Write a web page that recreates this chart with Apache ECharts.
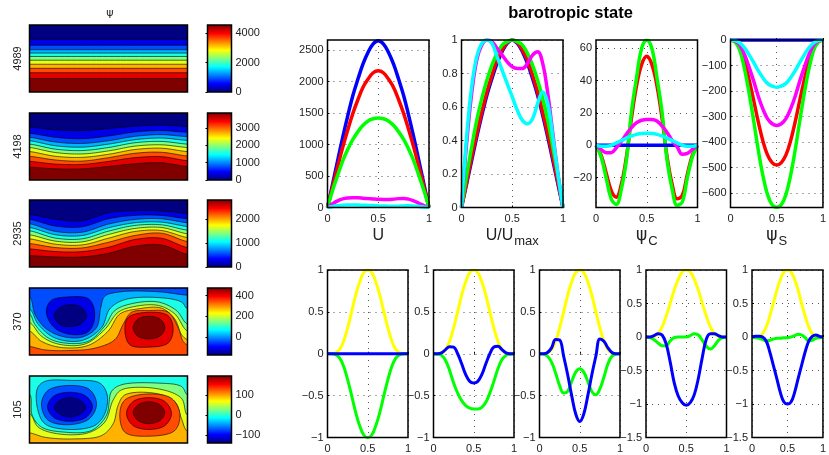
<!DOCTYPE html>
<html><head><meta charset="utf-8">
<style>html,body{margin:0;padding:0;background:#fff;overflow:hidden}#c{width:829px;height:455px}</style>
<script src="https://cdn.jsdelivr.net/npm/echarts@6/dist/echarts.min.js"></script>
</head><body><div id="c"></div>
<script>
// ---------- shared abscissa ----------
const xs = [0,.05,.1,.15,.2,.25,.3,.35,.4,.45,.5,.55,.6,.65,.7,.75,.8,.85,.9,.95,1];

// ---------- top row profiles ----------
const uBlue    = [0,370,745,1115,1460,1780,2040,2280,2465,2600,2650,2600,2465,2280,2040,1780,1460,1115,745,370,0];
const uRed     = [0,325,650,955,1235,1495,1715,1910,2040,2140,2170,2140,2040,1910,1715,1495,1235,955,650,325,0];
const uGreen   = [0,270,510,740,925,1080,1205,1305,1375,1410,1420,1410,1375,1305,1205,1080,925,740,510,270,0];
const uMagenta = [0,59,105,136,150,154,153,147,141,135,130,129,129,133,141,144,133,105,68,31,0];
const uCyan    = [0,17,29,36,39,40,39,36,33,30,26,23,21,20,21,25,28,25,17,8,0];

const rBlue    = [0,.14,.28,.42,.55,.67,.77,.86,.93,.98,1,.98,.93,.86,.77,.67,.55,.42,.28,.14,0];
const rRed     = [0,.15,.30,.44,.57,.69,.79,.88,.94,.985,1,.985,.94,.88,.79,.69,.57,.44,.30,.15,0];
const rGreen   = [0,.19,.36,.52,.65,.76,.85,.92,.97,.99,1,.99,.97,.92,.85,.76,.65,.52,.36,.19,0];
const rMagenta = [0,.38,.68,.88,.97,1,.99,.95,.91,.87,.84,.83,.83,.86,.91,.93,.86,.68,.44,.2,0];
const rCyan    = [0,.42,.72,.9,.98,1,.98,.9,.82,.74,.66,.58,.52,.5,.53,.62,.69,.62,.42,.2,0];

const cBlue    = [0,0,0,0,0,0,0,0,0,0,0,0,0,0,0,0,0,0,0,0,0];
const cRed     = [0,-6,-17,-28,-32,-24,-7,17,37,50,55,50,37,17,-7,-24,-33,-31,-18,-6,0];
const cGreen   = [0,-7,-20,-33,-36.5,-27,-9,21,42,60,65,60,42,21,-9,-27,-37,-35,-20,-7,0];
const cMagenta = [0,-2.5,-4.5,-4.5,-1.5,2.5,7,11,14,15.5,16,16,15,12,8,3,-1,-5.5,-5,-2.5,0];
const cCyan    = [0,-.5,-.5,0,1.5,3,4.5,5.8,6.8,7.3,7.5,7.3,6.8,5.8,4.5,3,1.5,0,-.5,-.5,0];

const sBlue    = [0,0,0,0,0,0,0,0,0,0,0,0,0,0,0,0,0,0,0,0,0];
const sRed     = [0,-6,-30,-82,-153,-235,-320,-395,-450,-480,-490,-480,-450,-395,-320,-235,-153,-82,-30,-6,0];
const sGreen   = [0,-8,-40,-110,-205,-315,-430,-530,-605,-645,-655,-645,-605,-530,-430,-315,-205,-110,-40,-8,0];
const sMagenta = [0,-4,-20,-56,-105,-160,-220,-270,-308,-328,-335,-328,-308,-270,-220,-160,-105,-56,-20,-4,0];
const sCyan    = [0,-2,-11,-30,-57,-88,-120,-148,-170,-181,-185,-181,-170,-148,-120,-88,-57,-30,-11,-2,0];

// ---------- bottom row modes ----------
const mYellow = [0,0,.01,.05,.15,.31,.5,.7,.86,.97,1,.97,.86,.7,.5,.31,.15,.05,.01,0,0];
const m1Green = [0,0,-.01,-.05,-.15,-.31,-.5,-.7,-.86,-.97,-1,-.97,-.86,-.7,-.5,-.31,-.15,-.05,-.01,0,0];
const m1Blue  = [0,0,0,0,0,0,0,0,0,0,0,0,0,0,0,0,0,0,0,0,0];
const m2Green = [0,-.005,-.02,-.08,-.2,-.35,-.47,-.56,-.62,-.65,-.66,-.66,-.64,-.58,-.47,-.33,-.18,-.07,-.02,-.005,0];
const m2Blue  = [0,0,.01,.05,.085,.08,0,-.12,-.25,-.33,-.35,-.33,-.25,-.12,0,.08,.09,.05,.01,0,0];
const m3Green = [0,-.005,-.03,-.1,-.23,-.38,-.47,-.45,-.33,-.22,-.18,-.22,-.33,-.45,-.49,-.42,-.28,-.12,-.03,-.005,0];
const m3Blue  = [0,0,.015,.07,.17,.165,-.03,-.25,-.5,-.72,-.81,-.72,-.5,-.25,-.03,.175,.15,.07,.015,0,0];
const m4Green = [0,-.01,-.04,-.09,-.13,-.13,-.06,-.01,0,0,0,.02,.05,.03,-.05,-.14,-.18,-.13,-.05,-.01,0];
const m4Blue  = [0,0,.02,.05,.03,-.1,-.37,-.68,-.88,-.98,-1.02,-.98,-.86,-.62,-.3,-.03,.05,.05,.02,0,0];
const m5Green = [0,-.01,-.02,-.04,-.06,-.05,-.03,-.02,-.02,-.01,-.01,0,.02,.04,.03,-.01,-.06,-.05,-.02,-.01,0];
const m5Blue  = [0,.01,.01,0,-.06,-.22,-.42,-.62,-.83,-.97,-1,-.97,-.83,-.62,-.42,-.22,-.06,.01,.03,.01,0];

// ---------- contour panels (x 0..474, y 0..height) ----------
const contourX = [0,79,158,237,316,395,474];
const p1Levels = [156,138,125,115,105,94,82,70,57,40];
const p2Lines = [
 [156,148,146,152,159,162,158],[138,126,122,130,142,146,141],[126,112,108,116,129,134,128],
 [116,101,97,106,119,124,117],[106,91,87,96,110,114,106],[96,81,77,86,100,104,96],
 [84,70,67,76,90,94,84],[70,59,56,66,79,82,71],[55,47,46,55,66,69,57],[38,33,33,40,48,51,40]];
const p3Lines = [
 [157,142,138,162,168,167,160],[142,122,120,144,154,154,144],[129,106,104,128,142,144,132],
 [118,96,94,117,132,134,121],[108,86,84,107,124,126,110],[96,77,75,97,115,118,99],
 [84,68,66,86,106,109,88],[70,58,57,74,94,101,76],[54,46,46,59,82,86,58],[34,30,30,41,62,66,38]];
const p4Open = [
 [[0,170],[16,120],[46,80],[96,55],[156,52],[201,80],[214,140],[226,172],[276,185],[386,185],[474,175]],
 [[0,135],[26,90],[76,50],[156,42],[216,80],[241,135],[286,162],[386,168],[456,155],[474,135]],
 [[0,120],[16,90],[56,50],[106,35],[176,40],[226,85],[256,130],[306,150],[386,155],[441,130],[474,90]],
 [[0,95],[36,55],[86,32],[166,32],[226,75],[266,125],[316,142],[386,145],[436,120],[474,70]],
 [[0,70],[36,40],[96,22],[176,28],[236,70],[271,120],[326,135],[396,137],[436,105],[456,60],[474,45]],
 [[0,25],[46,15],[116,13],[196,20],[256,45],[281,90],[306,125],[356,130],[416,125],[446,80],[461,40],[474,30]]];
const p4OpenLevels = [.3,.4,.5,.6,.7,.8];
const p4Closed = [
 [[51,135],[66,160],[116,170],[176,165],[194,135],[191,90],[171,65],[126,60],[81,75],[56,105]],
 [[74,115],[90,138],[122,147],[155,140],[171,115],[155,92],[122,83],[90,90]],
 [[286,75],[296,110],[356,125],[416,115],[431,75],[416,35],[356,23],[301,30]],
 [[311,80],[325,105],[358,113],[392,105],[406,80],[392,56],[358,47],[325,55]]];
const p4ClosedLevels = [.1,0,.9,1];
const p5Open = [
 [[0,144],[8,82],[36,47],[106,32],[186,37],[231,82],[246,152],[276,172],[386,177],[456,167],[474,142]],
 [[0,87],[26,47],[86,27],[176,30],[226,62],[251,127],[276,157],[386,160],[456,132],[474,82]],
 [[0,30],[46,17],[126,12],[216,22],[251,57],[266,112],[286,142],[376,147],[436,122],[456,72],[474,34]]];
const p5OpenLevels = [.5,.6,.7];
const p5Closed = [
 [[24,162],[46,182],[126,185],[211,177],[233,142],[226,87],[196,52],[116,40],[46,57],[24,102]],
 [[36,115],[55,155],[118,170],[180,158],[201,115],[180,72],[118,54],[55,68]],
 [[54,107],[72,138],[121,150],[170,138],[189,107],[170,76],[121,64],[72,76]],
 [[74,105],[90,125],[121,134],[153,125],[169,105],[153,86],[121,77],[90,86]],
 [[271,87],[286,127],[356,145],[426,132],[451,87],[436,37],[356,20],[286,32]],
 [[291,87],[310,122],[358,134],[407,122],[426,87],[407,52],[358,40],[310,52]],
 [[311,90],[325,112],[358,122],[392,112],[406,90],[392,67],[358,57],[325,67]]];
const p5ClosedLevels = [.3,.2,.1,0,.8,.9,1];

const bandLevels = [.1,.2,.3,.4,.5,.6,.7,.8,.9,1];
const panelNames = ['4989','4198','2935','370','105'];

// ---------- colour bar scales ----------
const cbRanges = [[0,4550],[0,3870],[0,2780],[-174,475],[-141,197]];
const cbTicks = [[0,2000,4000],[0,1000,2000,3000],[0,1000,2000],[0,200,400],[-100,0,100]];

// ---------- styling ----------
const COL = {blue:'#0000ff',red:'#ff0000',green:'#00ff00',magenta:'#ff00ff',cyan:'#00ffff',yellow:'#ffff00'};
const FONT = '"Liberation Sans", Arial, sans-serif';
const INK = '#222';
const minus = v => String(v).replace('-', '\u2212');
function jet(t){
  const c = v => Math.round(255*Math.max(0,Math.min(1,1.5-Math.abs(4*t-v))));
  return `rgb(${c(3)},${c(2)},${c(1)})`;
}
// centripetal Catmull-Rom drawing of a contour through its pixel points
function spline(P,closed){
  const n=P.length,out=[],get=i=>closed?P[(i+n)%n]:P[Math.max(0,Math.min(n-1,i))];
  const segs=closed?n:n-1;
  for(let i=0;i<segs;i++){
    const p0=get(i-1),p1=get(i),p2=get(i+1),p3=get(i+2);
    const d=(a,b)=>Math.max(1e-3,Math.sqrt(Math.hypot(a[0]-b[0],a[1]-b[1])));
    const t0=0,t1=t0+d(p0,p1),t2=t1+d(p1,p2),t3=t2+d(p2,p3);
    for(let s=0;s<14;s++){
      const t=t1+(t2-t1)*s/14;
      const mix=(a,b,ta,tb)=>[a[0]+(b[0]-a[0])*(t-ta)/(tb-ta),a[1]+(b[1]-a[1])*(t-ta)/(tb-ta)];
      const A1=mix(p0,p1,t0,t1),A2=mix(p1,p2,t1,t2),A3=mix(p2,p3,t2,t3);
      const B1=mix(A1,A2,t0,t2),B2=mix(A2,A3,t1,t3);
      out.push(mix(B1,B2,t1,t2));
    }
  }
  if(!closed) out.push(P[n-1]);
  return out;
}
const grids=[],xAxes=[],yAxes=[],series=[];

function addGrid(l,t,w,h){ grids.push({left:l,top:t,width:w,height:h,show:false,containLabel:false}); return grids.length-1; }

function frame(i){
  return {type:'custom',coordinateSystem:'cartesian2d',xAxisIndex:i,yAxisIndex:i,z:20,silent:true,clip:false,
    data:[[0]],renderItem:(p,api)=>{
      const cs=p.coordSys;
      return {type:'rect',shape:{x:cs.x,y:cs.y,width:cs.width,height:cs.height},
        style:{fill:'none',stroke:'#000',lineWidth:1.5}};
    }};
}

function contourPanel(pos,yMax,name,layers){
  const i=addGrid(...pos);
  xAxes.push({gridIndex:i,type:'value',min:0,max:474,show:false});
  yAxes.push({gridIndex:i,type:'value',min:0,max:yMax,name,nameLocation:'middle',nameRotate:90,nameGap:6,
    nameTextStyle:{fontSize:11,fontFamily:FONT,color:INK},
    axisLine:{show:false},axisTick:{show:false},axisLabel:{show:false},splitLine:{show:false}});
  series.push({type:'custom',coordinateSystem:'cartesian2d',xAxisIndex:i,yAxisIndex:i,clip:true,silent:true,
    data:layers.map((_,k)=>[k]),
    renderItem:(p,api)=>{
      const L=layers[api.value(0)];
      let pts=L.points, out;
      if(L.kind==='open'){
        const f=pts[0],e=pts[pts.length-1];
        const line=[[f[0]-40,f[1]],...pts,[e[0]+40,e[1]]].map(q=>api.coord(q));
        out=[...spline(line,false),api.coord([e[0]+90,-70]),api.coord([f[0]-90,-70])];
      } else if(L.kind==='closed'){
        out=spline(pts.map(q=>api.coord(q)),true);
      } else out=pts.map(q=>api.coord(q));
      return {type:'polygon',shape:{points:out},
        style:{fill:jet(L.level),stroke:L.kind==='base'?'none':'#000',lineWidth:.6}};
    }});
  series.push(frame(i));
}

function colorbar(pos,range,ticks){
  const i=addGrid(...pos);
  xAxes.push({gridIndex:i,type:'value',min:0,max:1,show:false});
  yAxes.push({gridIndex:i,type:'value',position:'right',min:range[0],max:range[1],
    axisLine:{show:false},splitLine:{show:false},
    axisTick:{show:true,inside:true,length:2,customValues:ticks,lineStyle:{color:'#000'}},
    axisLabel:{show:true,customValues:ticks,margin:4,fontSize:11,fontFamily:FONT,color:INK,formatter:minus,hideOverlap:false}});
  const grad=new echarts.graphic.LinearGradient(0,1,0,0,[
    {offset:0,color:'#000080'},{offset:.125,color:'#0000ff'},{offset:.375,color:'#00ffff'},
    {offset:.625,color:'#ffff00'},{offset:.875,color:'#ff0000'},{offset:1,color:'#800000'}]);
  series.push({type:'custom',coordinateSystem:'cartesian2d',xAxisIndex:i,yAxisIndex:i,silent:true,
    data:[[0,range[0],1,range[1]]],
    renderItem:(p,api)=>{
      const a=api.coord([api.value(0),api.value(1)]),b=api.coord([api.value(2),api.value(3)]);
      return {type:'rect',shape:{x:a[0],y:b[1],width:b[0]-a[0],height:a[1]-b[1]},style:{fill:grad}};
    }});
  series.push(frame(i));
}

function linePanel(pos,yRange,yTicks,xName,gap,width,lines){
  const i=addGrid(...pos);
  const dots={show:true,lineStyle:{color:'#555',type:[1,5],width:1}};
  xAxes.push({gridIndex:i,type:'value',min:0,max:1,interval:.5,name:xName||'',nameLocation:'middle',nameGap:gap,
    nameTextStyle:{fontSize:16,fontFamily:FONT,color:INK,rich:{
      b:{fontSize:16,fontFamily:FONT,color:INK},
      g:{fontSize:17,fontFamily:'"DejaVu Sans"',color:INK},
      s:{fontSize:13,fontFamily:FONT,color:INK,padding:[11,0,0,1]}}},
    axisLine:{show:false},axisTick:{inside:true,length:2,lineStyle:{color:'#000'}},
    axisLabel:{margin:6,fontSize:11,fontFamily:FONT,color:INK,formatter:v=>String(v)},
    splitLine:dots});
  yAxes.push({gridIndex:i,type:'value',min:yRange[0],max:yRange[1],
    axisLine:{show:false},axisTick:{inside:true,length:2,customValues:yTicks,lineStyle:{color:'#000'}},
    axisLabel:{margin:4,fontSize:11,fontFamily:FONT,color:INK,customValues:yTicks,formatter:minus,hideOverlap:false},
    splitLine:dots});
  lines.forEach(([vals,col])=>series.push({type:'line',xAxisIndex:i,yAxisIndex:i,smooth:.4,symbol:'none',silent:true,
    lineStyle:{color:col,width},data:xs.map((x,k)=>[x,vals[k]])}));
  series.push(frame(i));
}

// ---- left column ----
const yTops=[25,113,200,288,376], pW=158, pH=67;
const straight=p1Levels.map(y=>[[0,y],[237,y],[474,y]]);
const mk=(base,open,openL,closed,closedL)=>[
  {points:[[-60,-60],[534,-60],[534,260],[-60,260]],level:base,kind:'base'},
  ...open.map((pts,k)=>({points:pts,level:openL[k],kind:'open'})),
  ...(closed||[]).map((pts,k)=>({points:pts,level:closedL[k],kind:'closed'}))];
const lineToPts=l=>l.map((y,k)=>[contourX[k],y]);
const layerSets=[
  mk(0,straight,bandLevels),
  mk(0,p2Lines.map(lineToPts),bandLevels),
  mk(0,p3Lines.map(lineToPts),bandLevels),
  mk(.2,p4Open,p4OpenLevels,p4Closed,p4ClosedLevels),
  mk(.4,p5Open,p5OpenLevels,p5Closed,p5ClosedLevels)];
const yMaxes=[198,198,200,196,198];
yTops.forEach((t,k)=>{
  contourPanel([29.5,t,pW,pH],yMaxes[k],panelNames[k],layerSets[k]);
  colorbar([207.5,t,24,pH],cbRanges[k],cbTicks[k]);
});

// ---- top row ----
const topY=40, topH=167.5, topW=101.5, wT=3.5;
linePanel([327.5,topY,topW,topH],[0,2660],[0,500,1000,1500,2000,2500],'{b|U}',20,wT,
  [[uBlue,COL.blue],[uRed,COL.red],[uGreen,COL.green],[uMagenta,COL.magenta],[uCyan,COL.cyan]]);
linePanel([461.5,topY,topW,topH],[0,1],[0,.2,.4,.6,.8,1],'{b|U/U}{s|max}',16,wT,
  [[rBlue,COL.blue],[rRed,COL.red],[rGreen,COL.green],[rMagenta,COL.magenta],[rCyan,COL.cyan]]);
linePanel([596,topY,topW,topH],[-38.4,65.1],[-20,0,20,40,60],'{g|\u03c8}{s|C}',16,wT,
  [[cRed,COL.red],[cGreen,COL.green],[cBlue,COL.blue],[cMagenta,COL.magenta],[cCyan,COL.cyan]]);
linePanel([730.5,topY,topW,topH],[-656,0],[-600,-500,-400,-300,-200,-100,0],'{g|\u03c8}{s|S}',16,wT,
  [[sRed,COL.red],[sGreen,COL.green],[sBlue,COL.blue],[sMagenta,COL.magenta],[sCyan,COL.cyan]]);

// ---- bottom row ----
const botY=270, botH=167.5, botW=80.5, wB=3;
const t1=[-1,-.5,0,.5,1], t2=[-1.5,-1,-.5,0,.5,1];
linePanel([327.5,botY,botW,botH],[-1,1],t1,'',20,wB,[[mYellow,COL.yellow],[m1Green,COL.green],[m1Blue,COL.blue]]);
linePanel([433.5,botY,botW,botH],[-1,1],t1,'',20,wB,[[mYellow,COL.yellow],[m2Green,COL.green],[m2Blue,COL.blue]]);
linePanel([539.5,botY,botW,botH],[-1,1],t1,'',20,wB,[[mYellow,COL.yellow],[m3Green,COL.green],[m3Blue,COL.blue]]);
linePanel([646,botY,botW,botH],[-1.5,1],t2,'',20,wB,[[mYellow,COL.yellow],[m4Green,COL.green],[m4Blue,COL.blue]]);
linePanel([752,botY,botW,botH],[-1.5,1],t2,'',20,wB,[[mYellow,COL.yellow],[m5Green,COL.green],[m5Blue,COL.blue]]);

const chart=echarts.init(document.getElementById('c'),null,{renderer:'canvas'});
chart.setOption({
  animation:false,backgroundColor:'#fff',
  title:[
    {text:'barotropic state',left:570.5,top:5,padding:0,textAlign:'center',textStyle:{fontSize:16.5,fontWeight:'bold',fontFamily:FONT,color:'#000'}},
    {text:'\u03c8',left:110,top:8,padding:0,textAlign:'center',textStyle:{fontSize:11,fontWeight:'normal',fontFamily:'"DejaVu Sans"',color:INK}}
  ],
  grid:grids,xAxis:xAxes,yAxis:yAxes,series
});
</script></body></html>
